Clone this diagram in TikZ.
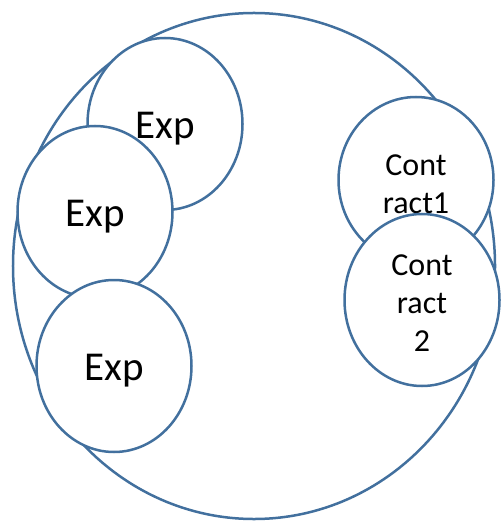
\documentclass[tikz,border=0pt]{standalone}
\usepackage{fontspec}
\setmainfont{Carlito}
\usetikzlibrary{shapes.geometric}
\definecolor{bleu}{rgb}{0.26,0.44,0.62}

\begin{document}
\begin{tikzpicture}[x=1bp,y=-1bp]
	\tikzstyle{bulle}=[ellipse, draw=bleu, line width=2.5bp, fill=white, text=black, inner sep=0pt, minimum width=155bp, minimum height=172bp]
	\tikzstyle{grand}=[font=\fontsize{41bp}{42bp}\selectfont, text height=29bp, text depth=0bp]
	\tikzstyle{petit}=[font=\fontsize{32bp}{38bp}\selectfont, align=center, text depth=0bp]

	\useasboundingbox (0,0) rectangle (503,524);

	% MONDE
	\node[ellipse, draw=bleu, line width=2.5bp, minimum width=482bp, minimum height=506bp] (monde) at (254,266) {};

	% EXPERIENCES
	\node[bulle, grand] (E1) at (165,124) {Exp};
	\node[bulle, grand] (E2) at (95,212) {Exp};
	\node[bulle, grand] (E3) at (114,366) {Exp};

	% CONTRATS
	\node[bulle, petit, minimum height=166bp, text height=66.6bp] (C1) at (416,180) {Cont\\ract1};
	\node[bulle, petit, text height=102.6bp] (C2) at (422,300) {Cont\\ract\\2};
\end{tikzpicture}
\end{document}
